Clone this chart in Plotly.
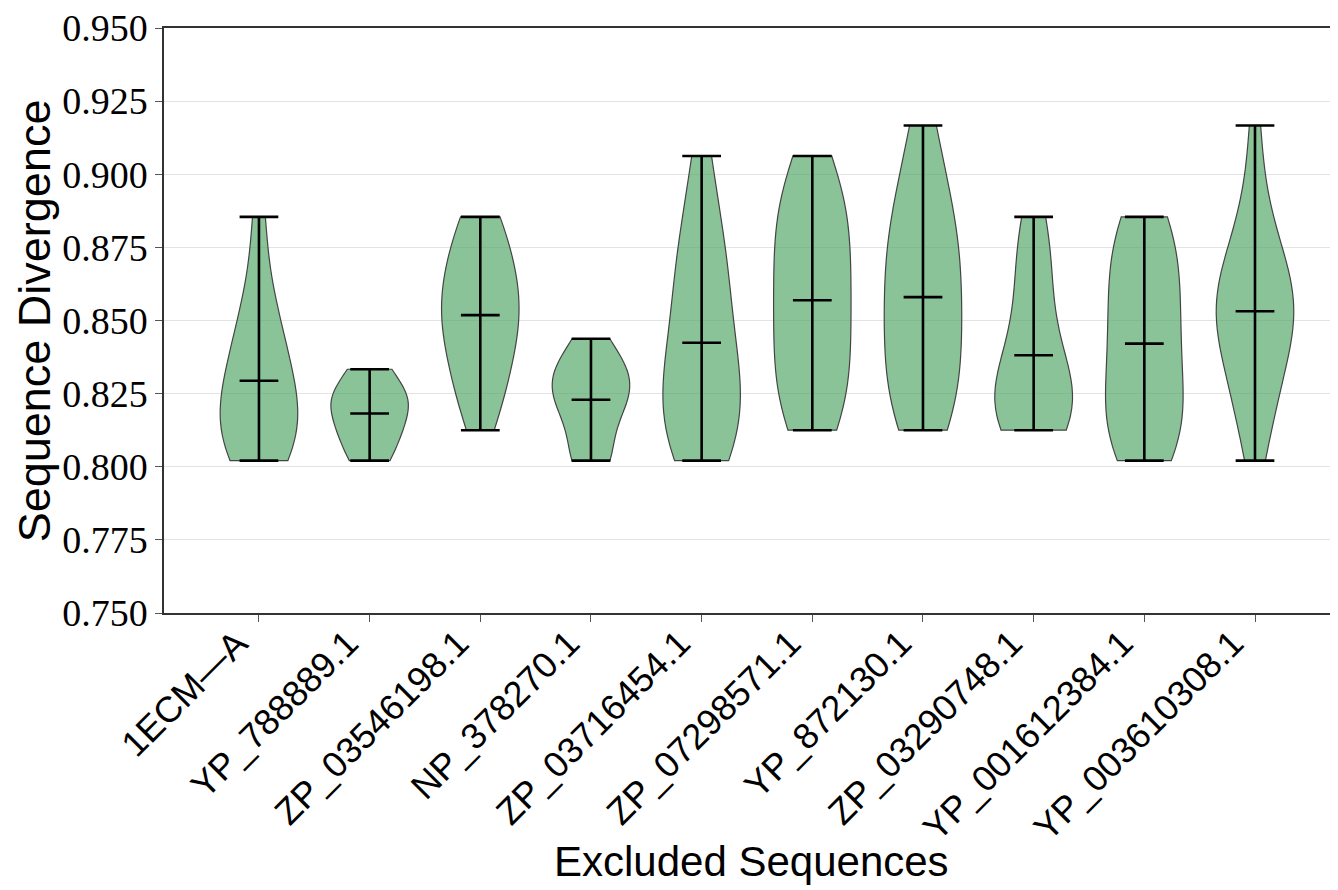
import numpy as np
import plotly.graph_objects as go

# Sequence divergence levels (k/96) present in the data
levels = [77/96, 78/96, 79/96, 80/96, 81/96, 82/96, 83/96, 84/96, 85/96, 86/96, 87/96, 88/96]

categories = ["1ECM—A", "YP_788889.1", "ZP_03546198.1", "NP_378270.1", "ZP_03716454.1",
              "ZP_07298571.1", "YP_872130.1", "ZP_03290748.1", "YP_001612384.1", "YP_003610308.1"]

# how many samples fall on each level, per excluded sequence
counts_1ECM_A = [3, 3, 3, 2, 2, 1, 1, 0, 1, 0, 0, 0]
counts_YP_788889 = [2, 3, 4, 2, 0, 0, 0, 0, 0, 0, 0, 0]
counts_ZP_03546198 = [0, 1, 2, 2, 3, 3, 3, 2, 2, 0, 0, 0]
counts_NP_378270 = [2, 1, 3, 3, 1, 0, 0, 0, 0, 0, 0, 0]
counts_ZP_03716454 = [3, 3, 3, 3, 2, 2, 2, 2, 1, 1, 1, 0]
counts_ZP_07298571 = [0, 2, 2, 2, 2, 2, 2, 2, 2, 2, 1, 0]
counts_YP_872130 = [0, 2, 2, 2, 2, 2, 2, 2, 2, 1, 1, 1]
counts_ZP_03290748 = [0, 3, 3, 2, 1, 1, 1, 1, 1, 0, 0, 0]
counts_YP_001612384 = [2, 3, 2, 2, 2, 2, 2, 2, 2, 0, 0, 0]
counts_YP_003610308 = [1, 1, 2, 2, 3, 4, 3, 2, 1, 1, 0, 1]

all_counts = [counts_1ECM_A, counts_YP_788889, counts_ZP_03546198, counts_NP_378270,
              counts_ZP_03716454, counts_ZP_07298571, counts_YP_872130, counts_ZP_03290748,
              counts_YP_001612384, counts_YP_003610308]

positions = list(range(1, len(categories) + 1))
FILL = "rgba(82,166,101,0.67)"
EDGE = "#444444"
VWIDTH = 0.7

fig = go.Figure()
lx, ly = [], []
for pos, cnt in zip(positions, all_counts):
    data = np.repeat(np.array(levels), cnt)
    n = len(data)
    bw = float(np.std(data, ddof=1) * n ** (-1 / 5))  # Scott's rule (matplotlib default)
    fig.add_trace(go.Violin(
        x=[pos] * n, y=data, width=VWIDTH, scalemode="width", spanmode="hard",
        bandwidth=bw, points=False, box_visible=False, meanline_visible=False,
        fillcolor=FILL, line=dict(color=EDGE, width=1.2), hoverinfo="skip",
        showlegend=False, orientation="v"))
    lo, hi, mu = float(data.min()), float(data.max()), float(data.mean())
    half = VWIDTH / 4
    for yv in (lo, hi, mu):
        lx += [pos - half, pos + half, None]
        ly += [yv, yv, None]
    lx += [pos, pos, None]
    ly += [lo, hi, None]

fig.add_trace(go.Scatter(x=lx, y=ly, mode="lines", line=dict(color="black", width=2.6),
                         showlegend=False, hoverinfo="skip"))

serif = "Liberation Serif, DejaVu Serif, serif"
sans = "Liberation Sans, DejaVu Sans, sans-serif"

fig.update_layout(
    width=1330, height=882,
    margin=dict(l=156, r=0, t=20, b=277),
    paper_bgcolor="white", plot_bgcolor="white",
    violinmode="overlay",
    xaxis=dict(range=[0.142, 10.75], tickmode="array", tickvals=positions, ticktext=categories,
               tickangle=-45, tickfont=dict(family=sans, size=36, color="black"),
               ticklabelshift=-22, ticklabelstandoff=-14,
               showgrid=False, zeroline=False, showline=True, linecolor="#333333", linewidth=1.5,
               mirror=True, ticks="outside", ticklen=7, tickcolor="#555555", automargin=False),
    yaxis=dict(range=[0.75, 0.95], tickmode="array",
               tickvals=[0.75, 0.775, 0.8, 0.825, 0.85, 0.875, 0.9, 0.925, 0.95],
               ticktext=["0.750", "0.775", "0.800", "0.825", "0.850", "0.875", "0.900", "0.925", "0.950"],
               tickfont=dict(family=serif, size=38, color="black"),
               ticklabeloverflow="allow",
               showgrid=True, gridcolor="#e3e3e3", gridwidth=1, zeroline=False,
               showline=True, linecolor="#333333", linewidth=1.5,
               ticks="outside", ticklen=7, tickcolor="#555555", automargin=False),
    annotations=[
        dict(text="Excluded Sequences", xref="paper", yref="paper", x=0.5, y=-0.4256,
             xanchor="center", yanchor="middle", showarrow=False,
             font=dict(family=sans, size=42, color="black")),
        dict(text="Sequence Divergence", xref="paper", yref="paper", x=-0.11, y=0.5,
             xanchor="center", yanchor="middle", textangle=-90, showarrow=False,
             font=dict(family=sans, size=45, color="black")),
    ],
)

fig.write_html("out.html")
